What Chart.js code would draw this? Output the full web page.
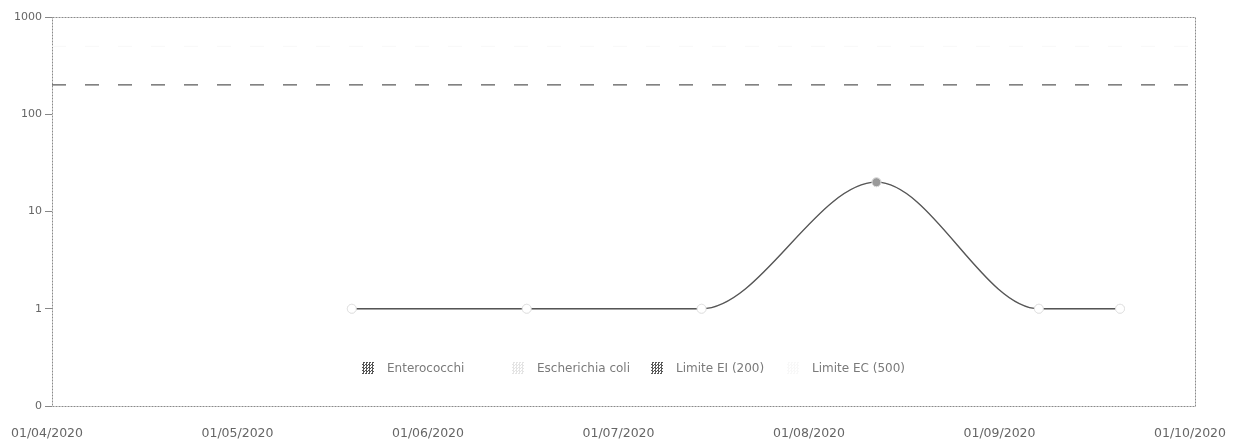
<!DOCTYPE html>
<html>
<head>
<meta charset="utf-8">
<script src="https://cdn.jsdelivr.net/npm/chart.js@4.4.0/dist/chart.umd.min.js"></script>
<style>
  html, body { margin: 0; padding: 0; background: #fff; }
  #wrap { position: relative; width: 1247px; height: 441px; }
  #legend { position: absolute; top: 361px; left: 0; width: 1247px; height: 16px; font: 12px "DejaVu Sans", sans-serif; color: #7a7a7a; }
  .item { position: absolute; top: 0; display: flex; align-items: center; white-space: nowrap; }
  .sw { width: 12px; height: 12px; margin-right: 13px; }
</style>
</head>
<body>
<div id="wrap">
  <canvas id="c" width="1247" height="441"></canvas>
  <div id="legend"></div>
</div>
<script>
// x values are days counted from 01/04/2020
const tickDays = [0, 30.5, 61, 91.5, 122, 152.5, 183];
const tickLabels = ['01/04/2020', '01/05/2020', '01/06/2020', '01/07/2020', '01/08/2020', '01/09/2020', '01/10/2020'];
const yTicks = [0.1, 1, 10, 100, 1000];
const yTickLabels = ['0', '1', '10', '100', '1000'];

const sampleDays = [48, 76, 104, 132, 158, 171];
const enterococchi = [1, 1, 1, 20, 1, 1];
const escherichiaColi = [1, 1, 1, 20, 1, 1];
const limitDays = [0, 183];
const limiteEI = [200, 200];
const limiteEC = [500, 500];
const seriesNames = ['Enterococchi', 'Escherichia coli', 'Limite EI (200)', 'Limite EC (500)'];

// legend item left edges (px)
const legendLeft = [362, 512, 651, 787];

const pts = (xs, ys) => xs.map((x, i) => ({ x: x, y: ys[i] }));

const frame = {
    id: 'frame',
    beforeDatasetsDraw(chart) {
        const { ctx, chartArea: a } = chart;
        ctx.save();
        ctx.strokeStyle = '#8a8a8a';
        ctx.lineWidth = 1;
        ctx.setLineDash([2, 1]);
        ctx.strokeRect(a.left + 0.5, a.top + 0.5, a.right - a.left, a.bottom - a.top);
        ctx.restore();
    }
};

const lineStyle = (color) => ({
    borderColor: color,
    borderWidth: 1.3,
    cubicInterpolationMode: 'monotone',
    pointRadius: 4.5,
    pointBorderWidth: 1,
    pointBorderColor: '#e2e2e2',
    pointBackgroundColor: ctx => (ctx.raw && ctx.raw.y > 1 ? '#9a9a9a' : '#ffffff')
});

const chart = new Chart(document.getElementById('c'), {
    type: 'line',
    data: {
        datasets: [
            Object.assign({ label: seriesNames[0], data: pts(sampleDays, enterococchi) }, lineStyle('#555')),
            Object.assign({ label: seriesNames[1], data: pts(sampleDays, escherichiaColi) }, lineStyle('#e4e4e4')),
            { label: seriesNames[2], data: pts(limitDays, limiteEI), borderColor: '#5a5a5a', borderWidth: 1.3, borderDash: [14, 19], pointRadius: 0 },
            { label: seriesNames[3], data: pts(limitDays, limiteEC), borderColor: '#f8f8f8', borderWidth: 1, borderDash: [14, 19], pointRadius: 0 }
        ]
    },
    options: {
        responsive: false,
        animation: false,
        layout: { padding: { top: 17, right: 52, bottom: 0, left: 0 } },
        plugins: { legend: { display: false }, tooltip: { enabled: false } },
        scales: {
            x: {
                type: 'linear', min: 0, max: 183,
                afterBuildTicks: s => { s.ticks = tickDays.map(v => ({ value: v })); },
                afterFit: s => { s.height = 35; },
                grid: { display: false },
                border: { display: false },
                ticks: {
                    autoSkip: false, maxRotation: 0, padding: 12, labelOffset: -5,
                    color: '#666', font: { family: 'DejaVu Sans', size: 12.5 },
                    callback: (v, i) => tickLabels[i]
                }
            },
            y: {
                type: 'logarithmic', min: 0.1, max: 1000,
                afterBuildTicks: s => { s.ticks = yTicks.map(v => ({ value: v })); },
                afterFit: s => { s.width = 52; },
                grid: { drawOnChartArea: false, tickLength: 7, color: '#888' },
                border: { display: false },
                ticks: {
                    padding: 3, color: '#666', font: { family: 'DejaVu Sans', size: 11 },
                    callback: (v, i) => yTickLabels[i]
                }
            }
        }
    },
    plugins: [frame]
});

// html legend built from the chart's datasets
const legend = document.getElementById('legend');
chart.data.datasets.forEach((ds, i) => {
    const item = document.createElement('div');
    item.className = 'item';
    item.style.left = legendLeft[i] + 'px';
    const sw = document.createElement('span');
    sw.className = 'sw';
    sw.style.background = 'repeating-conic-gradient(' + ds.borderColor + ' 0 25%, #fff 0 50%) 0 0 / 3px 3px';
    const txt = document.createElement('span');
    txt.textContent = ds.label;
    item.appendChild(sw);
    item.appendChild(txt);
    legend.appendChild(item);
});
</script>
</body>
</html>
